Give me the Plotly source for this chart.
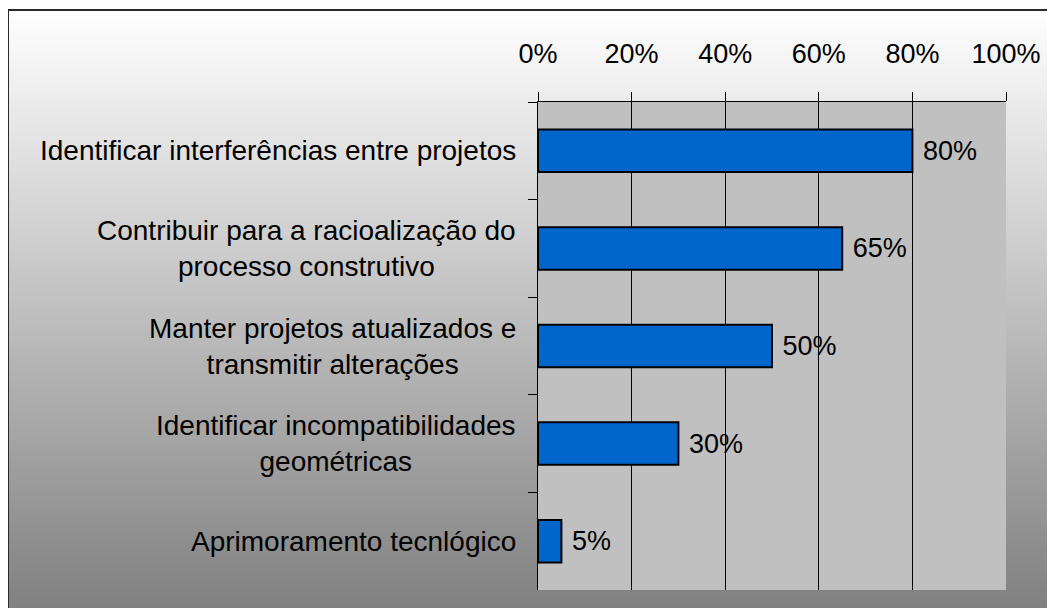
import plotly.graph_objects as go

categorias = [
    "Identificar interferências entre projetos",
    "Contribuir para a racioalização do<br>processo construtivo",
    "Manter projetos atualizados e<br>transmitir alterações",
    "Identificar incompatibilidades<br>geométricas",
    "Aprimoramento tecnlógico",
]
valores = [0.80, 0.65, 0.50, 0.30, 0.05]
rotulos = ["80%", "65%", "50%", "30%", "5%"]

# a página tem 8px de margem no body: a figura começa em (8, 8)
OFF = 8
W, H = 1055 - OFF, 608 - OFF
ML, MR, MT, MB = 538 - OFF, 49, 102 - OFF, 18
PW, PH = W - ML - MR, H - MT - MB
FONTE = "Liberation Sans, Arial, sans-serif"


def px_x(x):
    # x em pixels da tela -> coordenada paper
    return (x - OFF - ML) / PW


def px_y(y):
    return (H - MB - (y - OFF)) / PH


fig = go.Figure()
fig.add_trace(
    go.Bar(
        x=valores,
        y=categorias,
        orientation="h",
        width=0.435,
        marker=dict(color="#0066cc", line=dict(color="#000000", width=2)),
        text=["\u00a0" + r for r in rotulos],
        textposition="outside",
        textfont=dict(family=FONTE, size=27, color="#000000"),
        constraintext="none",
        cliponaxis=False,
        hoverinfo="skip",
    )
)

# fundo em degradê (branco -> cinza), em faixas
shapes = []
n = 120
y_top, y_bot = 10, 610
for i in range(n):
    ya = y_top + (y_bot - y_top) * i / n
    yb = y_top + (y_bot - y_top) * (i + 1) / n + 0.6
    g = round(255 - 127 * (i + 0.5) / n)
    shapes.append(
        dict(
            type="rect", xref="paper", yref="paper", layer="below",
            x0=px_x(8), x1=px_x(1060), y0=px_y(yb), y1=px_y(ya),
            line=dict(width=0), fillcolor=f"rgb({g},{g},{g})",
        )
    )
# área de plotagem cinza
shapes.append(
    dict(
        type="rect", xref="x domain", yref="y domain", layer="below",
        x0=0, x1=1, y0=0, y1=1,
        line=dict(width=0), fillcolor="#c0c0c0",
    )
)
# moldura
shapes.append(
    dict(
        type="rect", xref="paper", yref="paper", layer="above",
        x0=px_x(8), x1=px_x(1065), y0=px_y(615), y1=px_y(10),
        line=dict(color="#2a2a2a", width=2), fillcolor="rgba(0,0,0,0)",
    )
)

annotations = [
    dict(
        xref="paper", yref="y", x=0, y=c, xanchor="right", yanchor="middle",
        xshift=-20, text=c, showarrow=False, align="center",
        font=dict(family=FONTE, size=28, color="#000000"),
    )
    for c in categorias
]

fig.update_layout(
    width=W,
    height=H,
    margin=dict(l=ML, r=MR, t=MT, b=MB, pad=0),
    paper_bgcolor="#ffffff",
    plot_bgcolor="#c0c0c0",
    showlegend=False,
    shapes=shapes,
    annotations=annotations,
    xaxis=dict(
        side="top",
        range=[0, 1],
        dtick=0.2,
        tickformat=".0%",
        ticks="outside",
        ticklen=9,
        tickcolor="#000000",
        showgrid=True,
        gridcolor="#000000",
        gridwidth=1,
        zeroline=False,
        showline=True,
        linecolor="#000000",
        linewidth=1,
        tickfont=dict(family=FONTE, size=27, color="#000000"),
        ticklabelstandoff=18,
        fixedrange=True,
    ),
    yaxis=dict(
        type="category",
        autorange="reversed",
        ticks="outside",
        tickson="boundaries",
        ticklen=9,
        tickcolor="#000000",
        showticklabels=False,
        showgrid=False,
        zeroline=False,
        showline=True,
        linecolor="#000000",
        linewidth=1,
        fixedrange=True,
    ),
)

fig.write_html("out.html")
